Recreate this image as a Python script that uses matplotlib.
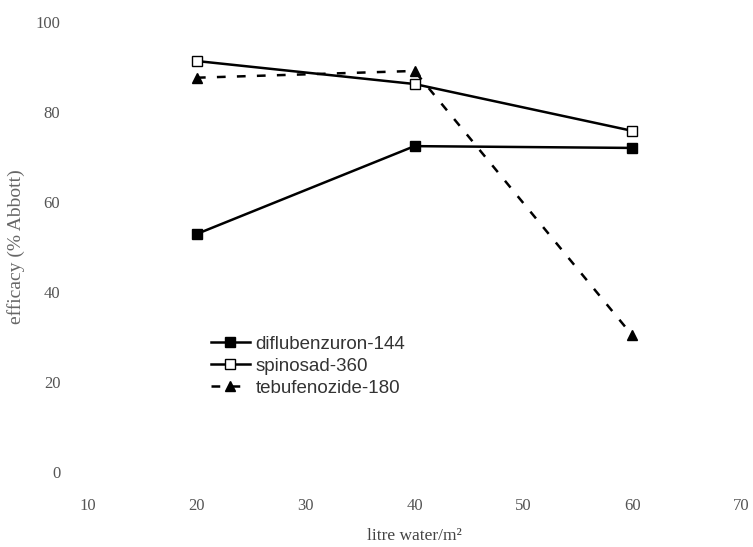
import matplotlib.pyplot as plt

water = [20, 40, 60]
diflubenzuron = [52.9, 72.4, 72.0]
spinosad = [91.3, 86.2, 75.8]
tebufenozide = [87.6, 89.1, 30.4]

xticks = [10, 20, 30, 40, 50, 60, 70]
yticks = [0, 20, 40, 60, 80, 100]

fig = plt.figure(figsize=(7.53, 5.47), dpi=100)
ax = fig.add_axes([0.117, 0.137, 0.867, 0.823])

ax.plot(water, diflubenzuron, '-', color='black', lw=1.8, marker='s', ms=7,
        mfc='black', mec='black', label='diflubenzuron-144')
ax.plot(water, spinosad, '-', color='black', lw=1.8, marker='s', ms=7,
        mfc='white', mec='black', mew=1.0, label='spinosad-360')
ax.plot(water, tebufenozide, color='black', lw=1.8, ls=(0, (3.5, 4.5)), marker='^', ms=7,
        mfc='black', mec='black', label='tebufenozide-180')

ax.set_xlim(10, 70)
ax.set_ylim(0, 100)
ax.set_xticks(xticks)
ax.set_yticks(yticks)
for s in ax.spines.values():
    s.set_visible(False)
ax.tick_params(length=0, colors='#555555', labelsize=12)
ax.tick_params(axis='x', pad=19)
ax.tick_params(axis='y', pad=20)
for lab in ax.get_xticklabels() + ax.get_yticklabels():
    lab.set_family('Liberation Serif')

ax.set_xlabel('litre water/m²', family='Liberation Serif', fontsize=12.5, color='#444444')
ax.xaxis.set_label_coords(0.5, -0.125)
ax.set_ylabel('efficacy (% Abbott)', family='Liberation Serif', fontsize=14, color='#666666')
ax.yaxis.set_label_coords(-0.097, 0.5)

leg = ax.legend(loc='upper left', bbox_to_anchor=(0.162, 0.34), frameon=False,
                handlelength=2.1, handletextpad=0.3, labelspacing=0.25,
                prop={'family': 'Liberation Sans', 'size': 13.5})
for t in leg.get_texts():
    t.set_color('#333333')

fig.savefig('out.png', dpi=100)
